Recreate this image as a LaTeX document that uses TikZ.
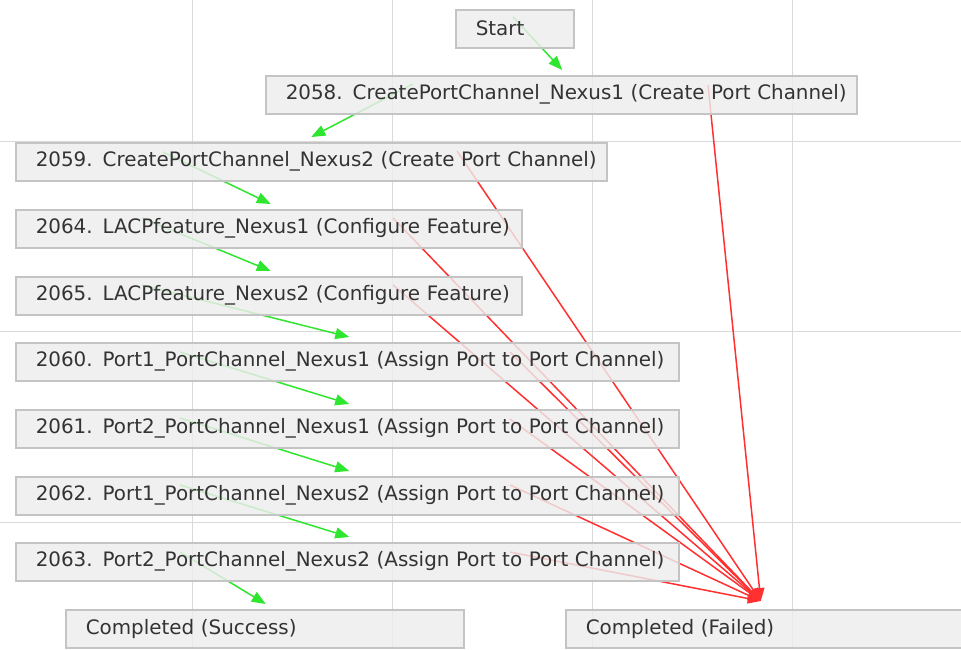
\documentclass[tikz,border=0pt]{standalone}
\usepackage{fontspec}
\setmainfont{DejaVu Sans}
\usetikzlibrary{arrows.meta}

\definecolor{gridgray}{HTML}{D9D9D9}
\definecolor{boxfill}{HTML}{EDEDED}
\definecolor{boxline}{HTML}{C4C4C4}
\definecolor{txtgray}{HTML}{333333}
\definecolor{okgreen}{HTML}{2EE62E}
\definecolor{failred}{HTML}{FF3030}

\pgfdeclarelayer{grid}
\pgfdeclarelayer{edges}
\pgfsetlayers{grid,edges,main}

\tikzset{
	stepbox/.style={draw=boxline, line width=1.5pt, fill=boxfill, fill opacity=0.82,
		text opacity=1, text=txtgray, anchor=north west, inner xsep=5pt,
		text width=#1-10pt, align=left, minimum height=38pt,
		execute at begin node={\hspace*{15pt}},
		font=\fontsize{19.9}{23}\selectfont},
	okline/.style={okgreen, line width=1.5pt, -{Triangle[length=14pt,width=11pt]}},
	failline/.style={failred, line width=1.5pt, -{Triangle[length=13pt,width=10pt]}},
}

\begin{document}
\begin{tikzpicture}[x=1pt,y=-1pt]
	\useasboundingbox (0,0) rectangle (961,649);

	\begin{pgfonlayer}{grid}
	\draw[gridgray, line width=1.5pt] (192.5,0) -- (192.5,649);
	\draw[gridgray, line width=1.5pt] (392.5,0) -- (392.5,649);
	\draw[gridgray, line width=1.5pt] (592.5,0) -- (592.5,649);
	\draw[gridgray, line width=1.5pt] (792.5,0) -- (792.5,649);
	\draw[gridgray, line width=1.5pt] (0,141.5) -- (961,141.5);
	\draw[gridgray, line width=1.5pt] (0,331.5) -- (961,331.5);
	\draw[gridgray, line width=1.5pt] (0,522.5) -- (961,522.5);
	\end{pgfonlayer}

	\node[stepbox=118pt] (start) at (455,9) {Start};
	\node[stepbox=591pt] (b2058) at (265,75) {2058. CreatePortChannel\_Nexus1 (Create Port Channel)};
	\node[stepbox=591pt] (b2059) at (15,142) {2059. CreatePortChannel\_Nexus2 (Create Port Channel)};
	\node[stepbox=506pt] (b2064) at (15,209) {2064. LACPfeature\_Nexus1 (Configure Feature)};
	\node[stepbox=506pt] (b2065) at (15,276) {2065. LACPfeature\_Nexus2 (Configure Feature)};
	\node[stepbox=663pt] (b2060) at (15,342) {2060. Port1\_PortChannel\_Nexus1 (Assign Port to Port Channel)};
	\node[stepbox=663pt] (b2061) at (15,409) {2061. Port2\_PortChannel\_Nexus1 (Assign Port to Port Channel)};
	\node[stepbox=663pt] (b2062) at (15,476) {2062. Port1\_PortChannel\_Nexus2 (Assign Port to Port Channel)};
	\node[stepbox=663pt] (b2063) at (15,542) {2063. Port2\_PortChannel\_Nexus2 (Assign Port to Port Channel)};
	\node[stepbox=398pt] (success) at (65,609) {Completed (Success)};
	\node[stepbox=398pt] (failed) at (565,609) {Completed (Failed)};

	\begin{pgfonlayer}{edges}
	% success path
	\draw[okline] ([xshift=58pt,yshift=-8pt]start.north west) -- ([xshift=1pt,yshift=5pt]b2058.north);
	\draw[okline] ([xshift=148pt,yshift=-9pt]b2058.north west) -- ([yshift=5pt]b2059.north);
	\draw[okline] ([xshift=148pt,yshift=-10pt]b2059.north west) -- ([xshift=2pt,yshift=5pt]b2064.north);
	\draw[okline] ([xshift=127pt,yshift=-9pt]b2064.north west) -- ([xshift=2pt,yshift=5pt]b2065.north);
	\draw[okline] ([xshift=127pt,yshift=-9pt]b2065.north west) -- ([xshift=2pt,yshift=5pt]b2060.north);
	\draw[okline] ([xshift=165pt,yshift=-10pt]b2060.north west) -- ([xshift=2pt,yshift=5pt]b2061.north);
	\draw[okline] ([xshift=165pt,yshift=-9pt]b2061.north west) -- ([xshift=2pt,yshift=5pt]b2062.north);
	\draw[okline] ([xshift=165pt,yshift=-9pt]b2062.north west) -- ([xshift=2pt,yshift=5pt]b2063.north);
	\draw[okline] ([xshift=165pt,yshift=-10pt]b2063.north west) -- ([xshift=1pt,yshift=5pt]success.north);
	% failure path
	\draw[failline] ([xshift=443pt,yshift=-10pt]b2058.north west) -- ([xshift=-4pt,yshift=8pt]failed.north);
	\draw[failline] ([xshift=442pt,yshift=-9pt]b2059.north west) -- ([xshift=-4pt,yshift=8pt]failed.north);
	\draw[failline] ([xshift=378pt,yshift=-9pt]b2064.north west) -- ([xshift=-4pt,yshift=8pt]failed.north);
	\draw[failline] ([xshift=378pt,yshift=-9pt]b2065.north west) -- ([xshift=-4pt,yshift=8pt]failed.north);
	\draw[failline] ([xshift=495pt,yshift=-10pt]b2060.north west) -- ([xshift=-4pt,yshift=8pt]failed.north);
	\draw[failline] ([xshift=495pt,yshift=-10pt]b2061.north west) -- ([xshift=-4pt,yshift=8pt]failed.north);
	\draw[failline] ([xshift=495pt,yshift=-9pt]b2062.north west) -- ([xshift=-4pt,yshift=8pt]failed.north);
	\draw[failline] ([xshift=495pt,yshift=-10pt]b2063.north west) -- ([xshift=-4pt,yshift=8pt]failed.north);
	\end{pgfonlayer}
\end{tikzpicture}
\end{document}
